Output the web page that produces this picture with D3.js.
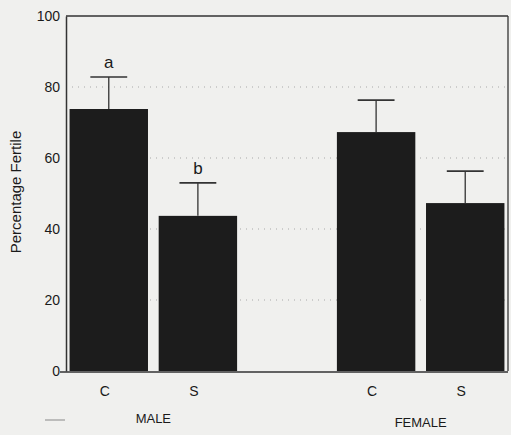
<!DOCTYPE html>
<html>
<head>
<meta charset="utf-8">
<script src="https://cdn.jsdelivr.net/npm/d3@7"></script>
<style>
  body { margin: 0; background: #f0f0ee; }
  text { font-family: "Liberation Sans", Arial, sans-serif; fill: #1a1a1a; }
</style>
</head>
<body>
<div id="chart"></div>
<script>
const width = 511, height = 435;
const margin = { top: 16, right: 3, bottom: 64, left: 66 };

// data
const slots = ["MALE-C", "MALE-S", "gap", "FEMALE-C", "FEMALE-S"];
const barKeys = ["MALE-C", "MALE-S", "FEMALE-C", "FEMALE-S"];
const barLabels = ["C", "S", "C", "S"];
const means = [73.8, 43.7, 67.3, 47.3];
const errors = [9.0, 9.3, 9.0, 9.0];
const letters = ["a", "b", "", ""];
const groups = ["MALE", "FEMALE"];
const groupSlots = [["MALE-C", "MALE-S"], ["FEMALE-C", "FEMALE-S"]];
const yTicks = [0, 20, 40, 60, 80, 100];
const gridTicks = [20, 40, 60, 80];

const data = barKeys.map((k, i) => ({ key: k, label: barLabels[i], mean: means[i], err: errors[i], letter: letters[i] }));

const svg = d3.select("#chart").append("svg")
  .attr("width", width)
  .attr("height", height);

const x = d3.scaleBand()
  .domain(slots)
  .range([margin.left, width - margin.right])
  .paddingInner(0.12)
  .paddingOuter(0.04);

const y = d3.scaleLinear()
  .domain([0, 100])
  .range([height - margin.bottom, margin.top]);

// faint dotted gridlines
svg.selectAll(".grid")
  .data(gridTicks)
  .join("line")
  .attr("class", "grid")
  .attr("x1", margin.left + 6)
  .attr("x2", width - margin.right)
  .attr("y1", d => y(d))
  .attr("y2", d => y(d))
  .attr("stroke", "#a8a8a8")
  .attr("stroke-width", 1)
  .attr("stroke-dasharray", "1,5");

// bars
svg.selectAll(".bar")
  .data(data)
  .join("rect")
  .attr("class", "bar")
  .attr("x", d => x(d.key))
  .attr("y", d => y(d.mean))
  .attr("width", x.bandwidth())
  .attr("height", d => y(0) - y(d.mean))
  .attr("fill", "#1c1c1c");

// error bars
const capW = x.bandwidth() * 0.47;
svg.selectAll(".err")
  .data(data)
  .join("line")
  .attr("class", "err")
  .attr("x1", d => x(d.key) + x.bandwidth() / 2)
  .attr("x2", d => x(d.key) + x.bandwidth() / 2)
  .attr("y1", d => y(d.mean))
  .attr("y2", d => y(d.mean + d.err))
  .attr("stroke", "#333")
  .attr("stroke-width", 1.3);

svg.selectAll(".cap")
  .data(data)
  .join("line")
  .attr("class", "cap")
  .attr("x1", d => x(d.key) + x.bandwidth() / 2 - capW / 2)
  .attr("x2", d => x(d.key) + x.bandwidth() / 2 + capW / 2)
  .attr("y1", d => y(d.mean + d.err))
  .attr("y2", d => y(d.mean + d.err))
  .attr("stroke", "#333")
  .attr("stroke-width", 1.6);

// significance letters
svg.selectAll(".letter")
  .data(data.filter(d => d.letter))
  .join("text")
  .attr("class", "letter")
  .attr("x", d => x(d.key) + x.bandwidth() / 2)
  .attr("y", d => y(d.mean + d.err) - 9)
  .attr("text-anchor", "middle")
  .attr("font-size", 17)
  .text(d => d.letter);

// frame: top, right, bottom
svg.append("line")
  .attr("x1", margin.left).attr("x2", width - margin.right)
  .attr("y1", y(100)).attr("y2", y(100))
  .attr("stroke", "#333").attr("stroke-width", 1.5);
svg.append("line")
  .attr("x1", width - margin.right).attr("x2", width - margin.right)
  .attr("y1", y(100)).attr("y2", y(0))
  .attr("stroke", "#333").attr("stroke-width", 1.3);
svg.append("line")
  .attr("x1", margin.left - 6).attr("x2", width - margin.right)
  .attr("y1", y(0) + 1).attr("y2", y(0) + 1)
  .attr("stroke", "#333").attr("stroke-width", 1.5);

// y axis
const yAxis = svg.append("g")
  .attr("transform", `translate(${margin.left},0)`)
  .call(d3.axisLeft(y).tickValues(yTicks).tickSize(0).tickPadding(6));
yAxis.select(".domain").attr("stroke", "#333").attr("stroke-width", 1.5);
yAxis.selectAll("text")
  .attr("font-size", 14)
  .attr("fill", "#1a1a1a")
  .style("font-family", "'Liberation Sans', Arial, sans-serif");

// y label
svg.append("text")
  .attr("transform", `translate(21, 192) rotate(-90)`)
  .attr("text-anchor", "middle")
  .attr("font-size", 15)
  .text("Percentage Fertile");

// bar category labels
svg.selectAll(".cat")
  .data(data)
  .join("text")
  .attr("class", "cat")
  .attr("x", d => x(d.key) + x.bandwidth() / 2 - 4)
  .attr("y", y(0) + 25)
  .attr("text-anchor", "middle")
  .attr("font-size", 14)
  .text(d => d.label);

// group labels
svg.selectAll(".group")
  .data(groups)
  .join("text")
  .attr("class", "group")
  .attr("x", (d, i) => (x(groupSlots[i][0]) + x(groupSlots[i][1]) + x.bandwidth()) / 2)
  .attr("y", (d, i) => y(0) + 52 + i * 4)
  .attr("text-anchor", "middle")
  .attr("font-size", 13)
  .text(d => d);

// small stray mark bottom-left
svg.append("line")
  .attr("x1", 45).attr("x2", 65)
  .attr("y1", 420).attr("y2", 420)
  .attr("stroke", "#888").attr("stroke-width", 1);
</script>
</body>
</html>
